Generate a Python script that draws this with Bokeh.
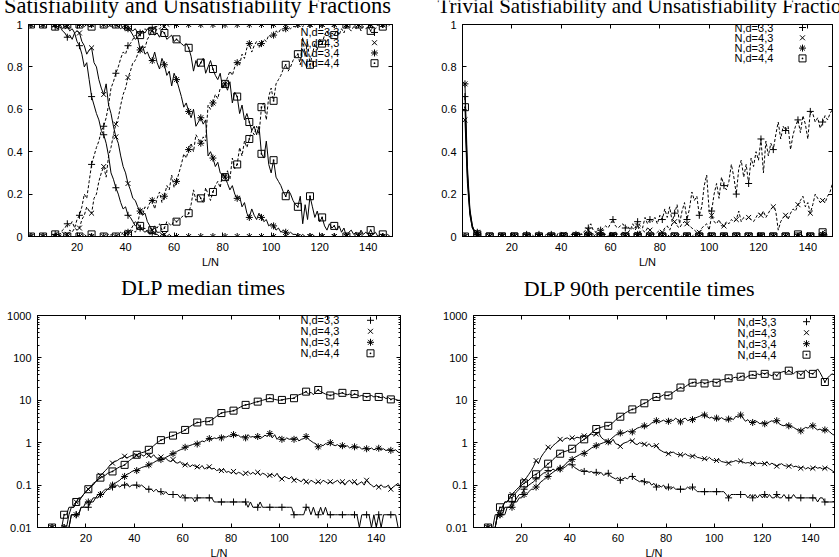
from bokeh.plotting import figure
from bokeh.layouts import row, column
from bokeh.models import (LinearAxis, LogAxis, FixedTicker,
                          CustomJSTickFormatter, Range1d)
from bokeh.core.properties import value
from bokeh.embed import file_html
from bokeh.resources import INLINE

# ---------------------------------------------------------------- data
L_N = list(range(1, 151))          # fraction panels, L/N = 1..150
L_N_TIMES = list(range(2, 151))    # timing panels (log axis), L/N = 2..150

SERIES = ["N,d=3,3", "N,d=4,3", "N,d=3,4", "N,d=4,4"]
MARKERS = ["cross", "x", "asterisk", "square_dot"]

X_TICKS = [20, 40, 60, 80, 100, 120, 140]
FRAC_TICKS = [0, 0.2, 0.4, 0.6, 0.8, 1]
TIME_TICKS = [0.01, 0.1, 1, 10, 100, 1000]

TITLES = ["Satisfiability and Unsatisfiability Fractions",
          "Trivial Satisfiability and Unsatisfiability Fractions",
          "DLP median times",
          "DLP 90th percentile times"]

# satisfiable fraction (solid) per series
sat_33 = [
    1, 1, 1, 1, 1, 1, 1, 1, 1, 1,
    0.99, 0.98, 0.99, 0.97, 0.96, 0.94, 0.95, 0.93, 0.96, 0.92,
    0.90, 0.86, 0.80, 0.82, 0.74, 0.66, 0.62, 0.58, 0.55, 0.50,
    0.48, 0.44, 0.38, 0.30, 0.27, 0.23, 0.20, 0.16, 0.13, 0.14,
    0.10, 0.09, 0.07, 0.05, 0.06, 0.04, 0.03, 0.02, 0.03, 0.01,
    0.02, 0.01, 0.01, 0, 0.01, 0, 0, 0, 0, 0,
    0, 0, 0, 0, 0, 0, 0, 0, 0, 0,
    0, 0, 0, 0, 0, 0, 0, 0, 0, 0,
    0, 0, 0, 0, 0, 0, 0, 0, 0, 0,
    0, 0, 0, 0, 0, 0, 0, 0, 0, 0,
    0, 0, 0, 0, 0, 0, 0, 0, 0, 0,
    0, 0, 0, 0, 0, 0, 0, 0, 0, 0,
    0, 0, 0, 0, 0, 0, 0, 0, 0, 0,
    0, 0, 0, 0, 0, 0, 0, 0, 0, 0,
    0, 0, 0, 0, 0, 0, 0, 0, 0, 0,
]
sat_43 = [
    1, 1, 1, 1, 1, 1, 1, 1, 1, 1,
    1, 0.99, 1, 0.98, 0.99, 0.99, 0.97, 0.98, 0.96, 0.97,
    0.96, 0.92, 0.90, 0.86, 0.88, 0.89, 0.82, 0.80, 0.74, 0.70,
    0.67, 0.72, 0.62, 0.58, 0.52, 0.47, 0.44, 0.38, 0.33, 0.30,
    0.25, 0.22, 0.18, 0.17, 0.14, 0.12, 0.10, 0.11, 0.07, 0.05,
    0.03, 0.04, 0.02, 0.02, 0.01, 0.01, 0, 0.01, 0, 0,
    0, 0, 0, 0, 0, 0, 0, 0, 0, 0,
    0, 0, 0, 0, 0, 0, 0, 0, 0, 0,
    0, 0, 0, 0, 0, 0, 0, 0, 0, 0,
    0, 0, 0, 0, 0, 0, 0, 0, 0, 0,
    0, 0, 0, 0, 0, 0, 0, 0, 0, 0,
    0, 0, 0, 0, 0, 0, 0, 0, 0, 0,
    0, 0, 0, 0, 0, 0, 0, 0, 0, 0,
    0, 0, 0, 0, 0, 0, 0, 0, 0, 0,
    0, 0, 0, 0, 0, 0, 0, 0, 0, 0,
]
sat_34 = [
    1, 1, 1, 1, 1, 1, 1, 1, 1, 1,
    1, 1, 1, 1, 1, 1, 1, 1, 1, 1,
    1, 1, 1, 1, 1, 1, 1, 1, 1, 1,
    1, 1, 1, 0.99, 1, 1, 0.99, 1, 0.98, 0.99,
    0.98, 0.97, 0.95, 0.93, 0.94, 0.88, 0.90, 0.86, 0.87, 0.84,
    0.83, 0.87, 0.82, 0.79, 0.84, 0.81, 0.76, 0.78, 0.71, 0.77,
    0.74, 0.70, 0.66, 0.61, 0.63, 0.59, 0.56, 0.60, 0.52, 0.54,
    0.56, 0.53, 0.55, 0.38, 0.40, 0.37, 0.33, 0.35, 0.30, 0.29,
    0.28, 0.25, 0.22, 0.24, 0.20, 0.18, 0.19, 0.14, 0.16, 0.11,
    0.09, 0.13, 0.10, 0.08, 0.11, 0.09, 0.07, 0.08, 0.05, 0.06,
    0.05, 0.03, 0.04, 0.02, 0.03, 0.02, 0.01, 0.02, 0.01, 0.01,
    0, 0, 0.01, 0, 0, 0, 0.01, 0, 0, 0,
    0, 0, 0, 0, 0, 0, 0, 0, 0, 0,
    0, 0, 0, 0, 0, 0, 0, 0, 0, 0,
    0, 0, 0, 0, 0, 0, 0, 0, 0, 0,
]
sat_44 = [
    1, 1, 1, 1, 1, 1, 1, 1, 1, 1,
    0.99, 0.98, 1, 1, 0.99, 1, 1, 1, 1, 1,
    1, 1, 0.99, 1, 0.99, 0.99, 1, 1, 1, 1,
    1, 1, 0.99, 1, 1, 1, 0.99, 0.98, 0.99, 1,
    0.99, 0.98, 0.97, 0.98, 0.96, 0.95, 0.97, 0.96, 0.98, 0.97,
    0.97, 0.95, 0.96, 0.94, 0.97, 0.96, 0.93, 0.94, 0.95, 0.92,
    0.93, 0.92, 0.91, 0.90, 0.91, 0.89, 0.85, 0.78, 0.83, 0.80,
    0.82, 0.84, 0.77, 0.80, 0.83, 0.79, 0.76, 0.74, 0.77, 0.70,
    0.72, 0.69, 0.73, 0.63, 0.68, 0.66, 0.58, 0.62, 0.55, 0.58,
    0.54, 0.50, 0.52, 0.48, 0.52, 0.39, 0.37, 0.45, 0.34, 0.30,
    0.36, 0.28, 0.26, 0.24, 0.21, 0.19, 0.22, 0.20, 0.17, 0.15,
    0.14, 0.19, 0.06, 0.15, 0.08, 0.19, 0.14, 0.09, 0.12, 0.07,
    0.09, 0.05, 0.03, 0.06, 0.04, 0.05, 0.03, 0.05, 0.02, 0.04,
    0, 0.02, 0.03, 0.01, 0.02, 0, 0.03, 0.01, 0.02, 0.01,
    0.03, 0.01, 0.02, 0, 0.01, 0.01, 0, 0.01, 0, 0,
]

# unsatisfiable fraction (dashed) per series
unsat_33 = [
    0, 0, 0, 0, 0, 0, 0, 0, 0, 0,
    0.01, 0.02, 0.01, 0.03, 0.04, 0.06, 0.05, 0.07, 0.04, 0.08,
    0.10, 0.14, 0.20, 0.18, 0.26, 0.34, 0.38, 0.42, 0.45, 0.50,
    0.52, 0.56, 0.62, 0.70, 0.73, 0.77, 0.80, 0.84, 0.87, 0.86,
    0.90, 0.91, 0.93, 0.95, 0.94, 0.96, 0.97, 0.98, 0.97, 0.99,
    0.98, 0.99, 0.99, 1, 0.99, 1, 1, 1, 1, 1,
    1, 1, 1, 1, 1, 1, 1, 1, 1, 1,
    1, 1, 1, 1, 1, 1, 1, 1, 1, 1,
    1, 1, 1, 1, 1, 1, 1, 1, 1, 1,
    1, 1, 1, 1, 1, 1, 1, 1, 1, 1,
    1, 1, 1, 1, 1, 1, 1, 1, 1, 1,
    1, 1, 1, 1, 1, 1, 1, 1, 1, 1,
    1, 1, 1, 1, 1, 1, 1, 1, 1, 1,
    1, 1, 1, 1, 1, 1, 1, 1, 1, 1,
    1, 1, 1, 1, 1, 1, 1, 1, 1, 1,
]
unsat_43 = [
    0, 0, 0, 0, 0, 0, 0, 0, 0, 0,
    0, 0.01, 0, 0.02, 0.01, 0.01, 0.03, 0.02, 0.04, 0.03,
    0.04, 0.08, 0.10, 0.14, 0.12, 0.11, 0.18, 0.20, 0.26, 0.30,
    0.33, 0.28, 0.38, 0.42, 0.48, 0.53, 0.56, 0.62, 0.67, 0.70,
    0.75, 0.78, 0.82, 0.83, 0.86, 0.88, 0.90, 0.89, 0.93, 0.95,
    0.97, 0.96, 0.98, 0.98, 0.99, 0.99, 1, 0.99, 1, 1,
    1, 1, 1, 1, 1, 1, 1, 1, 1, 1,
    1, 1, 1, 1, 1, 1, 1, 1, 1, 1,
    1, 1, 1, 1, 1, 1, 1, 1, 1, 1,
    1, 1, 1, 1, 1, 1, 1, 1, 1, 1,
    1, 1, 1, 1, 1, 1, 1, 1, 1, 1,
    1, 1, 1, 1, 1, 1, 1, 1, 1, 1,
    1, 1, 1, 1, 1, 1, 1, 1, 1, 1,
    1, 1, 1, 1, 1, 1, 1, 1, 1, 1,
    1, 1, 1, 1, 1, 1, 1, 1, 1, 1,
]
unsat_34 = [
    0, 0, 0, 0, 0, 0, 0, 0, 0, 0,
    0, 0, 0, 0, 0, 0, 0, 0, 0, 0,
    0, 0, 0, 0, 0, 0, 0, 0, 0, 0,
    0, 0, 0, 0.01, 0, 0, 0.01, 0, 0.02, 0.01,
    0.02, 0.03, 0.05, 0.07, 0.06, 0.12, 0.10, 0.14, 0.13, 0.16,
    0.17, 0.13, 0.18, 0.21, 0.16, 0.19, 0.24, 0.22, 0.29, 0.23,
    0.26, 0.30, 0.34, 0.39, 0.37, 0.41, 0.44, 0.40, 0.48, 0.46,
    0.44, 0.47, 0.45, 0.62, 0.60, 0.63, 0.67, 0.65, 0.70, 0.71,
    0.72, 0.75, 0.78, 0.76, 0.80, 0.82, 0.81, 0.86, 0.84, 0.89,
    0.91, 0.87, 0.90, 0.92, 0.89, 0.91, 0.93, 0.92, 0.95, 0.94,
    0.95, 0.97, 0.96, 0.98, 0.97, 0.98, 0.99, 0.98, 0.99, 0.99,
    1, 1, 0.99, 1, 1, 1, 0.99, 1, 1, 1,
    1, 1, 1, 1, 1, 1, 1, 1, 1, 1,
    1, 1, 1, 1, 1, 1, 1, 1, 1, 1,
    1, 1, 1, 1, 1, 1, 1, 1, 1, 1,
]
unsat_44 = [
    0, 0, 0, 0, 0, 0, 0, 0, 0, 0,
    0.01, 0.02, 0, 0, 0.01, 0, 0, 0, 0, 0,
    0, 0, 0.01, 0, 0.01, 0.01, 0, 0, 0, 0,
    0, 0, 0.01, 0, 0, 0, 0.01, 0.02, 0.01, 0,
    0.01, 0.02, 0.03, 0.02, 0.04, 0.05, 0.03, 0.04, 0.02, 0.03,
    0.03, 0.05, 0.04, 0.06, 0.03, 0.04, 0.07, 0.06, 0.05, 0.08,
    0.07, 0.08, 0.09, 0.10, 0.09, 0.11, 0.15, 0.22, 0.17, 0.20,
    0.18, 0.16, 0.23, 0.20, 0.17, 0.21, 0.24, 0.26, 0.23, 0.30,
    0.28, 0.31, 0.27, 0.37, 0.32, 0.34, 0.42, 0.38, 0.45, 0.42,
    0.46, 0.50, 0.48, 0.52, 0.48, 0.61, 0.63, 0.55, 0.66, 0.70,
    0.64, 0.72, 0.74, 0.76, 0.79, 0.81, 0.78, 0.80, 0.83, 0.85,
    0.86, 0.81, 0.94, 0.85, 0.92, 0.81, 0.86, 0.91, 0.88, 0.93,
    0.91, 0.95, 0.97, 0.94, 0.96, 0.95, 0.97, 0.95, 0.98, 0.96,
    1, 0.98, 0.97, 0.99, 0.98, 1, 0.97, 0.99, 0.98, 0.99,
    0.97, 0.99, 0.98, 1, 0.99, 0.99, 1, 0.99, 1, 1,
]

# trivially satisfiable fraction (solid) per series
triv_sat_33 = [
    0.66, 0.30, 0.12, 0.05, 0.02, 0.01, 0, 0, 0, 0,
    0, 0, 0, 0, 0, 0, 0, 0, 0, 0,
    0, 0, 0, 0, 0, 0, 0, 0, 0, 0,
    0, 0, 0, 0, 0, 0, 0, 0, 0, 0,
    0, 0, 0, 0, 0, 0, 0, 0, 0, 0,
    0, 0, 0, 0, 0, 0, 0, 0, 0, 0,
    0, 0, 0, 0, 0, 0, 0, 0, 0, 0,
    0, 0, 0, 0, 0, 0, 0, 0, 0, 0,
    0, 0, 0, 0, 0, 0, 0, 0, 0, 0,
    0, 0, 0, 0, 0, 0, 0, 0, 0, 0,
    0, 0, 0, 0, 0, 0, 0, 0, 0, 0,
    0, 0, 0, 0, 0, 0, 0, 0, 0, 0,
    0, 0, 0, 0, 0, 0, 0, 0, 0, 0,
    0, 0, 0, 0, 0, 0, 0, 0, 0, 0,
    0, 0, 0, 0, 0, 0, 0, 0, 0, 0,
]
triv_sat_43 = [
    0.55, 0.25, 0.10, 0.04, 0.02, 0.01, 0, 0, 0, 0,
    0, 0, 0, 0, 0, 0, 0, 0, 0, 0,
    0, 0, 0, 0, 0, 0, 0, 0, 0, 0,
    0, 0, 0, 0, 0, 0, 0, 0, 0, 0,
    0, 0, 0, 0, 0, 0, 0, 0, 0, 0,
    0, 0, 0, 0, 0, 0, 0, 0, 0, 0,
    0, 0, 0, 0, 0, 0, 0, 0, 0, 0,
    0, 0, 0, 0, 0, 0, 0, 0, 0, 0,
    0, 0, 0, 0, 0, 0, 0, 0, 0, 0,
    0, 0, 0, 0, 0, 0, 0, 0, 0, 0,
    0, 0, 0, 0, 0, 0, 0, 0, 0, 0,
    0, 0, 0, 0, 0, 0, 0, 0, 0, 0,
    0, 0, 0, 0, 0, 0, 0, 0, 0, 0,
    0, 0, 0, 0, 0, 0, 0, 0, 0, 0,
    0, 0, 0, 0, 0, 0, 0, 0, 0, 0,
]
triv_sat_34 = [
    0.72, 0.33, 0.13, 0.05, 0.02, 0.02, 0, 0, 0, 0,
    0, 0, 0, 0, 0, 0, 0, 0, 0, 0,
    0, 0, 0, 0, 0, 0, 0, 0, 0, 0,
    0, 0, 0, 0, 0, 0, 0, 0, 0, 0,
    0, 0, 0, 0, 0, 0, 0, 0, 0, 0,
    0, 0, 0, 0, 0, 0, 0, 0, 0, 0,
    0, 0, 0, 0, 0, 0, 0, 0, 0, 0,
    0, 0, 0, 0, 0, 0, 0, 0, 0, 0,
    0, 0, 0, 0, 0, 0, 0, 0, 0, 0,
    0, 0, 0, 0, 0, 0, 0, 0, 0, 0,
    0, 0, 0, 0, 0, 0, 0, 0, 0, 0,
    0, 0, 0, 0, 0, 0, 0, 0, 0, 0,
    0, 0, 0, 0, 0, 0, 0, 0, 0, 0,
    0, 0, 0, 0, 0, 0, 0, 0, 0, 0,
    0, 0, 0, 0, 0, 0, 0, 0, 0, 0,
]
triv_sat_44 = [
    0.61, 0.28, 0.11, 0.04, 0.02, 0.01, 0, 0, 0, 0,
    0, 0, 0, 0, 0, 0, 0, 0, 0, 0,
    0, 0, 0, 0, 0, 0, 0, 0, 0, 0,
    0, 0, 0, 0, 0, 0, 0, 0, 0, 0,
    0, 0, 0, 0, 0, 0, 0, 0, 0, 0,
    0, 0, 0, 0, 0, 0, 0, 0, 0, 0,
    0, 0, 0, 0, 0, 0, 0, 0, 0, 0,
    0, 0, 0, 0, 0, 0, 0, 0, 0, 0,
    0, 0, 0, 0, 0, 0, 0, 0, 0, 0,
    0, 0, 0, 0, 0, 0, 0, 0, 0, 0,
    0, 0, 0, 0, 0, 0, 0, 0, 0, 0,
    0, 0, 0, 0, 0, 0, 0, 0, 0, 0,
    0, 0, 0, 0, 0, 0, 0, 0, 0, 0,
    0, 0, 0, 0, 0, 0, 0, 0, 0, 0,
    0, 0, 0, 0, 0, 0, 0, 0, 0, 0,
]

# trivially unsatisfiable fraction (dashed) per series
triv_unsat_33 = [
    0, 0, 0, 0, 0, 0, 0, 0, 0, 0,
    0, 0, 0, 0, 0, 0, 0, 0, 0, 0,
    0, 0, 0, 0, 0, 0.01, 0, 0.01, 0, 0,
    0.01, 0, 0, 0.01, 0, 0.01, 0.01, 0, 0.02, 0.01,
    0, 0.01, 0, 0.01, 0.01, 0.01, 0.02, 0.01, 0.02, 0.03,
    0.04, 0.06, 0.03, 0.02, 0.04, 0.03, 0.04, 0.05, 0.04, 0.06,
    0.08, 0.05, 0.04, 0.05, 0.06, 0.04, 0.05, 0.03, 0.06, 0.04,
    0.07, 0.05, 0.04, 0.09, 0.06, 0.08, 0.07, 0.09, 0.06, 0.10,
    0.08, 0.13, 0.09, 0.14, 0.07, 0.11, 0.15, 0.06, 0.12, 0.16,
    0.08, 0.13, 0.21, 0.17, 0.19, 0.10, 0.14, 0.24, 0.29, 0.12,
    0.12, 0.20, 0.25, 0.18, 0.28, 0.24, 0.22, 0.26, 0.34, 0.28,
    0.20, 0.32, 0.36, 0.28, 0.34, 0.25, 0.37, 0.33, 0.40, 0.36,
    0.46, 0.30, 0.45, 0.38, 0.44, 0.41, 0.48, 0.54, 0.46, 0.52,
    0.50, 0.52, 0.41, 0.48, 0.52, 0.55, 0.49, 0.57, 0.53, 0.46,
    0.59, 0.58, 0.54, 0.56, 0.51, 0.54, 0.57, 0.55, 0.58, 0.60,
]
triv_unsat_43 = [
    0, 0, 0, 0, 0, 0, 0, 0, 0, 0,
    0, 0, 0, 0, 0, 0, 0, 0, 0, 0,
    0, 0, 0, 0, 0, 0, 0, 0, 0, 0,
    0, 0, 0, 0, 0, 0, 0, 0, 0.01, 0,
    0.01, 0, 0, 0, 0, 0.01, 0, 0.01, 0.01, 0.02,
    0.03, 0.02, 0.01, 0.02, 0.01, 0.02, 0.01, 0.01, 0, 0.01,
    0.01, 0.02, 0.01, 0.01, 0.02, 0.01, 0.02, 0.03, 0.04, 0.03,
    0.05, 0.02, 0.03, 0.02, 0.04, 0.03, 0.02, 0.01, 0.02, 0.03,
    0.02, 0.04, 0.05, 0.03, 0.06, 0.07, 0.05, 0.04, 0.06, 0.07,
    0.06, 0.05, 0.04, 0.03, 0.02, 0.02, 0.04, 0.05, 0.06, 0.03,
    0.10, 0.07, 0.06, 0.08, 0.05, 0.05, 0.07, 0.06, 0.08, 0.07,
    0.08, 0.12, 0.07, 0.09, 0.08, 0.09, 0.08, 0.07, 0.09, 0.11,
    0.10, 0.12, 0.09, 0.11, 0.13, 0.14, 0.12, 0.03, 0.07, 0.09,
    0.10, 0.08, 0.11, 0.13, 0.12, 0.15, 0.17, 0.19, 0.14, 0.16,
    0.11, 0.15, 0.20, 0.18, 0.16, 0.17, 0.16, 0.19, 0.21, 0.25,
]
triv_unsat_34 = [
    0, 0, 0, 0, 0, 0, 0, 0, 0, 0,
    0, 0, 0, 0, 0, 0, 0, 0, 0, 0,
    0, 0, 0, 0, 0, 0, 0, 0, 0, 0,
    0, 0, 0, 0, 0, 0, 0, 0, 0, 0,
    0, 0, 0, 0, 0, 0, 0, 0, 0, 0,
    0.01, 0, 0, 0.01, 0, 0.01, 0, 0, 0, 0,
    0, 0.01, 0, 0, 0, 0, 0.01, 0, 0, 0,
    0.01, 0, 0, 0, 0.01, 0, 0, 0, 0, 0,
    0, 0, 0.01, 0, 0, 0, 0, 0.01, 0, 0,
    0, 0, 0, 0.01, 0, 0, 0, 0, 0, 0.01,
    0, 0, 0, 0, 0, 0, 0.01, 0, 0, 0,
    0, 0, 0, 0, 0, 0, 0, 0, 0, 0,
    0, 0, 0, 0, 0, 0, 0, 0, 0, 0,
    0, 0, 0, 0, 0, 0, 0, 0, 0, 0,
    0, 0, 0, 0, 0, 0.01, 0, 0, 0, 0,
]
triv_unsat_44 = [
    0, 0, 0, 0, 0, 0, 0, 0, 0, 0,
    0, 0, 0, 0, 0, 0, 0, 0, 0, 0,
    0, 0, 0, 0, 0, 0, 0, 0, 0, 0,
    0, 0, 0, 0, 0, 0, 0, 0, 0, 0,
    0, 0, 0, 0, 0, 0, 0, 0, 0, 0,
    0, 0, 0, 0, 0, 0, 0, 0, 0, 0,
    0, 0, 0, 0, 0, 0, 0, 0, 0, 0,
    0, 0, 0, 0, 0, 0, 0, 0, 0, 0,
    0, 0, 0, 0, 0, 0, 0, 0, 0, 0,
    0, 0, 0, 0, 0, 0, 0, 0, 0, 0,
    0, 0, 0, 0, 0, 0, 0, 0, 0, 0,
    0, 0, 0, 0, 0, 0, 0, 0, 0, 0,
    0, 0, 0, 0, 0, 0, 0, 0, 0, 0,
    0, 0, 0, 0, 0, 0.01, 0.02, 0, 0, 0,
    0, 0, 0, 0, 0, 0.02, 0.03, 0, 0, 0,
]

# DLP median times (L/N = 2..150)
median_33 = [
    0.01, 0.01, 0.01, 0.01, 0.01, 0.01, 0.01, 0.01, 0.01,
    0.01, 0.01, 0.01, 0.02, 0.02, 0.02, 0.02, 0.03, 0.03, 0.03,
    0.03, 0.04, 0.04, 0.05, 0.05, 0.06, 0.06, 0.07, 0.08, 0.08,
    0.09, 0.09, 0.10, 0.09, 0.10, 0.10, 0.11, 0.09, 0.10, 0.10,
    0.10, 0.09, 0.10, 0.09, 0.08, 0.08, 0.08, 0.07, 0.08, 0.07,
    0.07, 0.06, 0.07, 0.06, 0.06, 0.06, 0.06, 0.06, 0.05, 0.06,
    0.05, 0.05, 0.05, 0.05, 0.04, 0.05, 0.05, 0.05, 0.05, 0.05,
    0.05, 0.05, 0.04, 0.04, 0.04, 0.04, 0.04, 0.04, 0.04, 0.04,
    0.04, 0.04, 0.04, 0.04, 0.04, 0.04, 0.03, 0.04, 0.03, 0.03,
    0.03, 0.04, 0.03, 0.03, 0.03, 0.03, 0.03, 0.03, 0.03, 0.03,
    0.03, 0.03, 0.03, 0.03, 0.03, 0.02, 0.02, 0.02, 0.02, 0.02,
    0.03, 0.03, 0.02, 0.03, 0.02, 0.02, 0.03, 0.02, 0.03, 0.02,
    0.02, 0.02, 0.02, 0.02, 0.02, 0.02, 0.02, 0.02, 0.02, 0.02,
    0.02, 0.02, 0.01, 0.02, 0.02, 0.02, 0.02, 0.01, 0.02, 0.01,
    0.02, 0.01, 0.02, 0.02, 0.02, 0.02, 0.02, 0.02, 0.01, 0.01,
]
median_43 = [
    0.01, 0.01, 0.01, 0.01, 0.01, 0.01, 0.01, 0.01, 0.01,
    0.01, 0.01, 0.02, 0.03, 0.03, 0.04, 0.05, 0.05, 0.06, 0.07,
    0.08, 0.09, 0.11, 0.12, 0.14, 0.17, 0.19, 0.22, 0.25, 0.30,
    0.33, 0.36, 0.38, 0.42, 0.44, 0.48, 0.44, 0.47, 0.50, 0.52,
    0.50, 0.47, 0.52, 0.48, 0.55, 0.50, 0.45, 0.52, 0.44, 0.42,
    0.46, 0.40, 0.43, 0.38, 0.36, 0.40, 0.34, 0.33, 0.36, 0.30,
    0.30, 0.32, 0.27, 0.30, 0.28, 0.27, 0.25, 0.29, 0.24, 0.26,
    0.27, 0.24, 0.25, 0.22, 0.23, 0.22, 0.24, 0.20, 0.21, 0.19,
    0.21, 0.18, 0.20, 0.19, 0.17, 0.19, 0.21, 0.18, 0.20, 0.18,
    0.20, 0.17, 0.19, 0.18, 0.16, 0.17, 0.18, 0.16, 0.19, 0.15,
    0.14, 0.16, 0.15, 0.14, 0.16, 0.13, 0.14, 0.13, 0.12, 0.14,
    0.12, 0.11, 0.13, 0.12, 0.11, 0.12, 0.11, 0.13, 0.12, 0.11,
    0.12, 0.11, 0.12, 0.13, 0.11, 0.12, 0.10, 0.12, 0.13, 0.11,
    0.12, 0.10, 0.11, 0.12, 0.10, 0.13, 0.11, 0.10, 0.09, 0.10,
    0.09, 0.10, 0.09, 0.09, 0.10, 0.08, 0.09, 0.10, 0.11, 0.09,
]
median_34 = [
    0.01, 0.01, 0.01, 0.01, 0.01, 0.01, 0.01, 0.01, 0.01,
    0.01, 0.01, 0.01, 0.02, 0.02, 0.02, 0.02, 0.03, 0.03, 0.04,
    0.04, 0.04, 0.05, 0.05, 0.06, 0.06, 0.07, 0.08, 0.08, 0.09,
    0.10, 0.11, 0.12, 0.13, 0.15, 0.16, 0.18, 0.19, 0.21, 0.22,
    0.22, 0.24, 0.26, 0.27, 0.28, 0.30, 0.32, 0.34, 0.37, 0.38,
    0.40, 0.42, 0.45, 0.48, 0.52, 0.55, 0.58, 0.64, 0.68, 0.72,
    0.78, 0.82, 0.86, 0.90, 0.95, 0.93, 1.0, 1.1, 1.05, 1.2,
    1.25, 1.2, 1.3, 1.25, 1.35, 1.3, 1.4, 1.35, 1.45, 1.4,
    1.55, 1.45, 1.5, 1.35, 1.4, 1.3, 1.55, 1.35, 1.4, 1.3,
    1.4, 1.25, 1.35, 1.5, 1.4, 1.65, 1.3, 1.55, 1.2, 1.4,
    1.2, 1.15, 1.3, 1.2, 1.25, 1.2, 1.35, 1.1, 1.2, 1.25,
    1.4, 1.2, 1.1, 1.0, 0.95, 0.8, 0.9, 0.85, 0.95, 0.9,
    1.0, 0.9, 0.85, 0.9, 0.8, 0.85, 0.8, 0.85, 0.75, 0.8,
    0.8, 0.75, 0.8, 0.7, 0.75, 0.72, 0.7, 0.75, 0.68, 0.72,
    0.74, 0.68, 0.72, 0.65, 0.7, 0.66, 0.64, 0.68, 0.6, 0.58,
]
median_44 = [
    0.01, 0.01, 0.01, 0.01, 0.01, 0.01, 0.01, 0.01, 0.01,
    0.02, 0.02, 0.03, 0.03, 0.03, 0.04, 0.04, 0.05, 0.06, 0.07,
    0.08, 0.09, 0.10, 0.12, 0.13, 0.15, 0.16, 0.17, 0.19, 0.20,
    0.21, 0.23, 0.25, 0.27, 0.28, 0.30, 0.34, 0.38, 0.42, 0.46,
    0.52, 0.55, 0.58, 0.60, 0.64, 0.68, 0.75, 0.85, 0.95, 1.05,
    1.15, 1.2, 1.3, 1.35, 1.4, 1.47, 1.55, 1.65, 1.75, 1.85,
    2.0, 2.2, 2.4, 2.6, 2.8, 3.0, 3.0, 3.1, 3.2, 3.1,
    3.2, 3.5, 3.8, 4.2, 4.6, 5.0, 5.2, 5.3, 5.4, 5.5,
    5.7, 6.0, 6.5, 7.0, 7.5, 7.8, 8.0, 8.2, 8.6, 9.0,
    9.3, 9.6, 10.0, 10.4, 10.8, 11.2, 10.8, 10.5, 10.2, 10.0,
    10.2, 10.5, 10.8, 11.0, 11.0, 11.2, 12.5, 13.5, 14.0, 15.0,
    16.0, 14.0, 15.5, 13.5, 16.0, 17.5, 16.0, 15.0, 14.0, 13.5,
    13.0, 13.5, 14.5, 14.0, 14.5, 15.0, 14.0, 13.5, 14.0, 13.0,
    14.0, 13.5, 12.5, 13.0, 12.5, 12.0, 12.5, 13.0, 12.0, 12.5,
    12.0, 11.5, 12.0, 11.0, 11.5, 10.5, 11.0, 10.5, 10.0, 10.0,
]

# DLP 90th percentile times (L/N = 2..150)
p90_33 = [
    0.01, 0.01, 0.01, 0.01, 0.01, 0.01, 0.01, 0.01, 0.02,
    0.02, 0.02, 0.03, 0.03, 0.03, 0.04, 0.04, 0.05, 0.06, 0.06,
    0.08, 0.09, 0.10, 0.11, 0.12, 0.14, 0.15, 0.17, 0.19, 0.20,
    0.22, 0.21, 0.24, 0.22, 0.25, 0.25, 0.27, 0.26, 0.30, 0.32,
    0.30, 0.26, 0.24, 0.22, 0.23, 0.21, 0.22, 0.20, 0.21, 0.19,
    0.20, 0.18, 0.20, 0.17, 0.18, 0.19, 0.16, 0.15, 0.14, 0.15,
    0.13, 0.14, 0.15, 0.14, 0.16, 0.16, 0.14, 0.13, 0.12, 0.13,
    0.12, 0.11, 0.12, 0.10, 0.11, 0.09, 0.10, 0.09, 0.10, 0.08,
    0.09, 0.08, 0.09, 0.08, 0.08, 0.08, 0.08, 0.08, 0.09, 0.08,
    0.09, 0.08, 0.07, 0.07, 0.07, 0.07, 0.07, 0.07, 0.07, 0.07,
    0.07, 0.07, 0.07, 0.07, 0.06, 0.05, 0.06, 0.06, 0.06, 0.06,
    0.06, 0.06, 0.06, 0.05, 0.06, 0.05, 0.06, 0.05, 0.06, 0.05,
    0.06, 0.05, 0.06, 0.05, 0.05, 0.06, 0.05, 0.05, 0.06, 0.05,
    0.05, 0.05, 0.06, 0.05, 0.05, 0.05, 0.05, 0.05, 0.05, 0.05,
    0.05, 0.05, 0.04, 0.05, 0.05, 0.04, 0.04, 0.04, 0.04, 0.04,
]
p90_43 = [
    0.01, 0.01, 0.01, 0.01, 0.01, 0.01, 0.01, 0.01, 0.02,
    0.02, 0.03, 0.04, 0.04, 0.05, 0.06, 0.07, 0.08, 0.09, 0.11,
    0.13, 0.15, 0.18, 0.22, 0.28, 0.38, 0.32, 0.45, 0.55, 0.65,
    0.78, 0.72, 0.85, 0.95, 1.05, 1.2, 1.1, 1.25, 1.3, 1.2,
    1.3, 1.25, 1.35, 1.3, 1.4, 1.45, 1.35, 1.5, 1.6, 1.5,
    1.6, 1.75, 1.35, 1.2, 1.1, 1.05, 1.0, 1.2, 0.95, 0.9,
    0.82, 0.95, 1.0, 1.05, 1.15, 1.1, 0.95, 0.9, 1.0, 0.95,
    0.92, 0.85, 0.95, 0.8, 0.85, 0.85, 0.7, 0.65, 0.6, 0.58,
    0.55, 0.58, 0.6, 0.55, 0.52, 0.52, 0.5, 0.55, 0.5, 0.48,
    0.48, 0.5, 0.45, 0.44, 0.42, 0.42, 0.4, 0.45, 0.4, 0.38,
    0.38, 0.4, 0.36, 0.35, 0.34, 0.33, 0.35, 0.36, 0.38, 0.36,
    0.37, 0.35, 0.33, 0.34, 0.33, 0.32, 0.34, 0.32, 0.33, 0.32,
    0.32, 0.35, 0.3, 0.33, 0.3, 0.28, 0.3, 0.32, 0.29, 0.28,
    0.28, 0.3, 0.27, 0.28, 0.26, 0.25, 0.27, 0.24, 0.26, 0.24,
    0.25, 0.27, 0.25, 0.26, 0.24, 0.25, 0.26, 0.24, 0.22, 0.2,
]
p90_34 = [
    0.01, 0.01, 0.01, 0.01, 0.01, 0.01, 0.01, 0.01, 0.02,
    0.02, 0.02, 0.02, 0.03, 0.03, 0.03, 0.04, 0.04, 0.05, 0.05,
    0.06, 0.06, 0.07, 0.08, 0.08, 0.09, 0.10, 0.12, 0.13, 0.15,
    0.16, 0.18, 0.2, 0.22, 0.23, 0.24, 0.27, 0.30, 0.35, 0.38,
    0.40, 0.45, 0.48, 0.52, 0.55, 0.56, 0.62, 0.68, 0.75, 0.8,
    0.85, 0.9, 0.95, 1.0, 1.05, 1.05, 1.2, 1.35, 1.5, 1.6,
    1.7, 1.65, 1.75, 1.9, 1.8, 1.8, 2.0, 2.2, 2.3, 2.4,
    2.5, 2.4, 2.6, 2.9, 3.1, 3.3, 3.0, 3.2, 3.4, 3.1,
    3.2, 3.5, 3.3, 3.8, 3.4, 3.1, 3.6, 3.8, 3.3, 3.5,
    3.5, 3.8, 4.0, 4.2, 4.5, 4.5, 4.2, 3.8, 4.0, 3.6,
    3.8, 3.5, 3.9, 3.6, 3.4, 3.6, 3.8, 3.5, 4.2, 4.0,
    4.5, 3.8, 3.2, 3.5, 3.0, 3.0, 3.3, 3.1, 2.8, 3.0,
    2.8, 2.9, 3.1, 3.3, 3.0, 3.3, 2.8, 2.6, 2.5, 2.7,
    2.5, 2.4, 2.3, 2.1, 2.0, 1.9, 2.1, 2.3, 2.2, 2.5,
    2.5, 2.2, 2.0, 2.1, 1.9, 2.0, 2.0, 1.8, 1.6, 1.5,
]
p90_44 = [
    0.01, 0.01, 0.01, 0.01, 0.01, 0.01, 0.01, 0.02, 0.02,
    0.03, 0.03, 0.04, 0.04, 0.05, 0.05, 0.06, 0.07, 0.08, 0.1,
    0.11, 0.12, 0.13, 0.15, 0.17, 0.18, 0.2, 0.22, 0.25, 0.28,
    0.32, 0.35, 0.4, 0.45, 0.5, 0.55, 0.6, 0.62, 0.65, 0.68,
    0.72, 0.8, 0.9, 1.0, 1.1, 1.2, 1.3, 1.5, 1.7, 1.9,
    2.1, 2.2, 2.3, 2.4, 2.5, 2.5, 2.7, 3.0, 3.4, 3.8,
    4.1, 4.5, 5.0, 5.4, 5.8, 6.1, 6.3, 6.8, 7.4, 8.0,
    8.5, 9.0, 10.0, 11.0, 11.5, 12.0, 11.5, 12.5, 13.5, 13.0,
    13.0, 14.0, 15.5, 17.0, 18.5, 20.0, 19.0, 21.0, 23.0, 25.0,
    26.0, 27.0, 25.0, 26.0, 27.0, 25.0, 26.0, 27.0, 28.0, 27.0,
    26.0, 28.0, 30.0, 31.0, 32.0, 33.0, 30.0, 34.0, 35.0, 33.0,
    36.0, 38.0, 34.0, 37.0, 39.0, 40.0, 38.0, 42.0, 40.0, 44.0,
    42.0, 45.0, 40.0, 38.0, 42.0, 38.0, 44.0, 46.0, 48.0, 45.0,
    50.0, 46.0, 42.0, 48.0, 44.0, 40.0, 45.0, 52.0, 46.0, 43.0,
    42.0, 48.0, 55.0, 45.0, 35.0, 27.0, 33.0, 38.0, 42.0, 40.0,
]

# ---------------------------------------------------------------- styling
SANS = "Liberation Sans"
SERIF = "Liberation Serif"
TICK_FONT = "11px"
LEGEND_FONT = "11px"
LOG_MINOR = [m * 10.0 ** e for e in range(-2, 3) for m in range(2, 10)]
FMT_CODE = "return tick.toString();"


def style_axis(ax, show_labels, minor):
    ax.axis_line_color = "black"
    ax.axis_line_width = 1
    ax.major_tick_line_color = "black"
    ax.minor_tick_line_color = "black"
    ax.major_tick_in = 4
    ax.major_tick_out = 0
    ax.minor_tick_in = 2 if minor else 0
    ax.minor_tick_out = 0
    ax.formatter = CustomJSTickFormatter(code=FMT_CODE)
    if show_labels:
        ax.major_label_text_font = SANS
        ax.major_label_text_font_size = TICK_FONT
        ax.major_label_text_color = "black"
        ax.major_label_standoff = 6
        ax.axis_label_text_font = SANS
        ax.axis_label_text_font_size = TICK_FONT
        ax.axis_label_text_font_style = "normal"
        ax.axis_label_text_color = "black"
        ax.axis_label_standoff = 2
    else:
        # mirrored tick marks only
        ax.major_label_text_font_size = "1px"
        ax.major_label_text_color = None
        ax.major_label_standoff = 0


def make_panel(width, height, left, right, top, bottom, log_y):
    p = figure(width=width, height=height, title=None,
               x_range=Range1d(0, 150),
               y_range=Range1d(0.01, 1000) if log_y else Range1d(0, 1),
               y_axis_type="log" if log_y else "linear",
               output_backend="svg", toolbar_location=None,
               min_border_left=left, min_border_right=right,
               min_border_top=top, min_border_bottom=bottom)
    p.background_fill_color = "white"
    p.border_fill_color = "white"
    p.outline_line_color = "black"
    p.outline_line_width = 1
    p.xgrid.visible = False
    p.ygrid.visible = False

    x_ticker = FixedTicker(ticks=X_TICKS)
    if log_y:
        y_ticker = FixedTicker(ticks=TIME_TICKS, minor_ticks=LOG_MINOR)
    else:
        y_ticker = FixedTicker(ticks=FRAC_TICKS)

    p.xaxis.ticker = x_ticker
    p.yaxis.ticker = y_ticker
    p.xaxis.axis_label = "L/N"
    style_axis(p.xaxis[0], True, False)
    style_axis(p.yaxis[0], True, log_y)

    top_axis = LinearAxis(ticker=x_ticker)
    style_axis(top_axis, False, False)
    p.add_layout(top_axis, "above")
    right_axis = LogAxis(ticker=y_ticker) if log_y else LinearAxis(ticker=y_ticker)
    style_axis(right_axis, False, log_y)
    p.add_layout(right_axis, "right")
    return p


def draw_series(p, xs, ys, marker, dash):
    assert len(xs) == len(ys)
    p.line(xs, ys, line_color="black", line_width=1, line_dash=dash)
    mx = [x for x in xs if (x - 1) % 5 == 0]
    my = [y for x, y in zip(xs, ys) if (x - 1) % 5 == 0]
    p.scatter(mx, my, marker=marker, size=7, line_color="black",
              fill_color=None, line_width=1)


def add_key(p, frame_w, frame_h, text_px, mark_px, rows_dy, log_y):
    """Key in the upper right corner: label first, then its point symbol."""
    if log_y:
        ys = [10 ** (3 - 5.0 * dy / frame_h) for dy in rows_dy]
    else:
        ys = [1 - dy / frame_h for dy in rows_dy]
    tx = 150.0 * text_px / frame_w
    mx = 150.0 * mark_px / frame_w
    p.text(x=[tx] * len(ys), y=ys, text=SERIES, text_font=value(SANS),
           text_font_size=value(LEGEND_FONT), text_color="black",
           text_align="left", text_baseline="middle")
    for y, marker in zip(ys, MARKERS):
        p.scatter([mx], [y], marker=marker, size=7, line_color="black",
                  fill_color=None, line_width=1)


def title_strip(height, entries):
    """Row of panel titles; coordinates are pixels from the strip's top-left."""
    s = figure(width=839, height=height, title=None,
               x_range=Range1d(0, 839), y_range=Range1d(height, 0),
               output_backend="svg", toolbar_location=None,
               x_axis_location=None, y_axis_location=None,
               min_border_left=0, min_border_right=0,
               min_border_top=0, min_border_bottom=0)
    s.outline_line_color = None
    s.background_fill_color = "white"
    s.border_fill_color = "white"
    s.xgrid.visible = False
    s.ygrid.visible = False
    for text, x, y, align, size in entries:
        s.text(x=[x], y=[y], text=[text], text_font=value(SERIF),
               text_font_size=value(size), text_color="black",
               text_align=align, text_baseline="alphabetic")
    return s


# ---------------------------------------------------------------- panels
top_titles = title_strip(18, [
    (TITLES[0], 197, 5, "center", "22.5px"),
    (TITLES[1], 437, 5, "left", "21px"),
])
bottom_titles = title_strip(22, [
    (TITLES[2], 203, 9, "center", "22px"),
    (TITLES[3], 639, 9.5, "center", "22px"),
])

# satisfiability fractions
p1 = make_panel(419, 260, 28, 27, 5, 42, False)
for s, u, m in zip([sat_33, sat_43, sat_34, sat_44],
                   [unsat_33, unsat_43, unsat_34, unsat_44], MARKERS):
    draw_series(p1, L_N, s, m, "solid")
    draw_series(p1, L_N, u, m, "3 2")
add_key(p1, 364, 213, 272, 346, [8, 18.3, 28.6, 38.9], False)

# trivial fractions
p2 = make_panel(420, 260, 43, 7, 6, 42, False)
for s, u, m in zip([triv_sat_33, triv_sat_43, triv_sat_34, triv_sat_44],
                   [triv_unsat_33, triv_unsat_43, triv_unsat_34, triv_unsat_44],
                   MARKERS):
    draw_series(p2, L_N, s, m, "solid")
    draw_series(p2, L_N, u, m, "3 2")
add_key(p2, 370, 212, 272, 340, [3, 13.3, 23.6, 33.9], False)

# median times
p3 = make_panel(419, 263, 37, 19, 15, 36, True)
for v, m in zip([median_33, median_43, median_34, median_44], MARKERS):
    draw_series(p3, L_N_TIMES, v, m, "solid")
add_key(p3, 363, 212, 263, 333, [4.8, 15.8, 26.8, 37.8], True)

# 90th percentile times
p4 = make_panel(420, 263, 54, 5, 15, 36, True)
for v, m in zip([p90_33, p90_43, p90_34, p90_44], MARKERS):
    draw_series(p4, L_N_TIMES, v, m, "solid")
add_key(p4, 361, 212, 264, 333, [6.2, 17.2, 28.2, 39.2], True)

layout = column(top_titles, row(p1, p2), bottom_titles, row(p3, p4))
open("out.html", "w").write(file_html(layout, INLINE))
